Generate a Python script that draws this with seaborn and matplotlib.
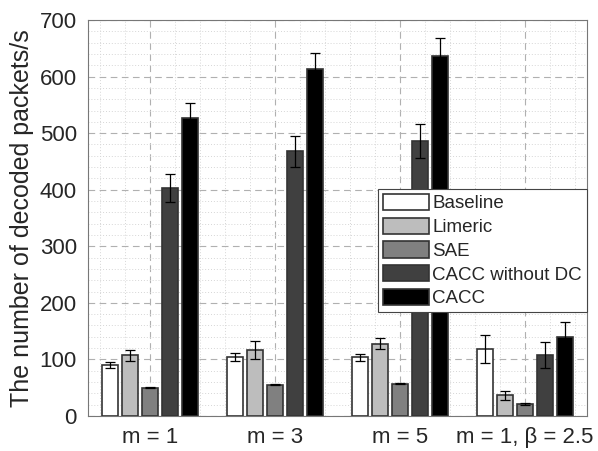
import matplotlib
matplotlib.use("Agg")
import matplotlib.pyplot as plt
from matplotlib.ticker import MultipleLocator
import numpy as np
import pandas as pd
import seaborn as sns

# data
scenarios = ["m = 1", "m = 3", "m = 5", "m = 1, β = 2.5"]
methods = ["Baseline", "Limeric", "SAE", "CACC without DC", "CACC"]

baseline = [90, 104, 104, 118]
limeric = [107, 117, 128, 37]
sae = [50, 55, 57, 21]
cacc_nodc = [403, 468, 486, 108]
cacc = [527, 614, 636, 140]

baseline_err = [5, 7, 6, 25]
limeric_err = [9, 16, 10, 8]
sae_err = [1, 1, 1, 2]
cacc_nodc_err = [25, 27, 30, 23]
cacc_err = [26, 28, 32, 27]

colors = ["#ffffff", "#bdbdbd", "#808080", "#404040", "#000000"]

values = [baseline, limeric, sae, cacc_nodc, cacc]
errs = [baseline_err, limeric_err, sae_err, cacc_nodc_err, cacc_err]

rows = []
for m, vals, ee in zip(methods, values, errs):
    for s, v, e in zip(scenarios, vals, ee):
        rows.append({"scenario": s, "method": m, "value": v, "err": e})
df = pd.DataFrame(rows)

sns.set_style("white")
plt.rcParams["font.family"] = ["Liberation Sans", "DejaVu Sans"]

fig = plt.figure(figsize=(5.98, 4.51), dpi=100)
ax = fig.add_axes([0.147, 0.0776, 0.835, 0.878])

sns.barplot(data=df, x="scenario", y="value", hue="method", order=scenarios,
            hue_order=methods, palette=colors, errorbar=None, gap=0.2,
            edgecolor="#333333", linewidth=1.2, saturation=1, ax=ax, zorder=3)

# error bars at the centre of each bar
for i, m in enumerate(methods):
    sub = df[df.method == m].set_index("scenario").loc[scenarios]
    bars = ax.containers[i]
    xs = [b.get_x() + b.get_width() / 2 for b in bars]
    ax.errorbar(xs, sub["value"], yerr=sub["err"], fmt="none", ecolor="black",
                elinewidth=0.9, capsize=3.8, capthick=0.9, zorder=4)

ax.set_xlim(-0.5, 3.5)
ax.set_ylim(0, 700)
ax.yaxis.set_major_locator(MultipleLocator(100))
ax.yaxis.set_minor_locator(MultipleLocator(20))
ax.xaxis.set_minor_locator(MultipleLocator(0.2))
ax.set_axisbelow(True)
ax.grid(True, which="major", linestyle=(0, (6, 4)), color="#b0b0b0", linewidth=0.8)
ax.grid(True, which="minor", linestyle=(0, (1, 2)), color="#d6d6d6", linewidth=0.7)
ax.tick_params(which="both", length=0, labelsize=16, colors="#262626", pad=8)
for sp in ax.spines.values():
    sp.set_color("#777777")
    sp.set_linewidth(0.8)

ax.set_xlabel("")
ax.set_ylabel("The number of decoded packets/s", fontsize=18, color="#262626", labelpad=4)

leg = ax.legend(loc="upper left", bbox_to_anchor=(0.581, 0.573), fontsize=13.5,
                frameon=True, fancybox=False, framealpha=1, edgecolor="#444444",
                handlelength=2.45, handleheight=0.95, handletextpad=0.2,
                labelspacing=0.28, borderpad=0.25, borderaxespad=0)
leg.get_frame().set_linewidth(0.8)

fig.savefig("out.png", dpi=100)
